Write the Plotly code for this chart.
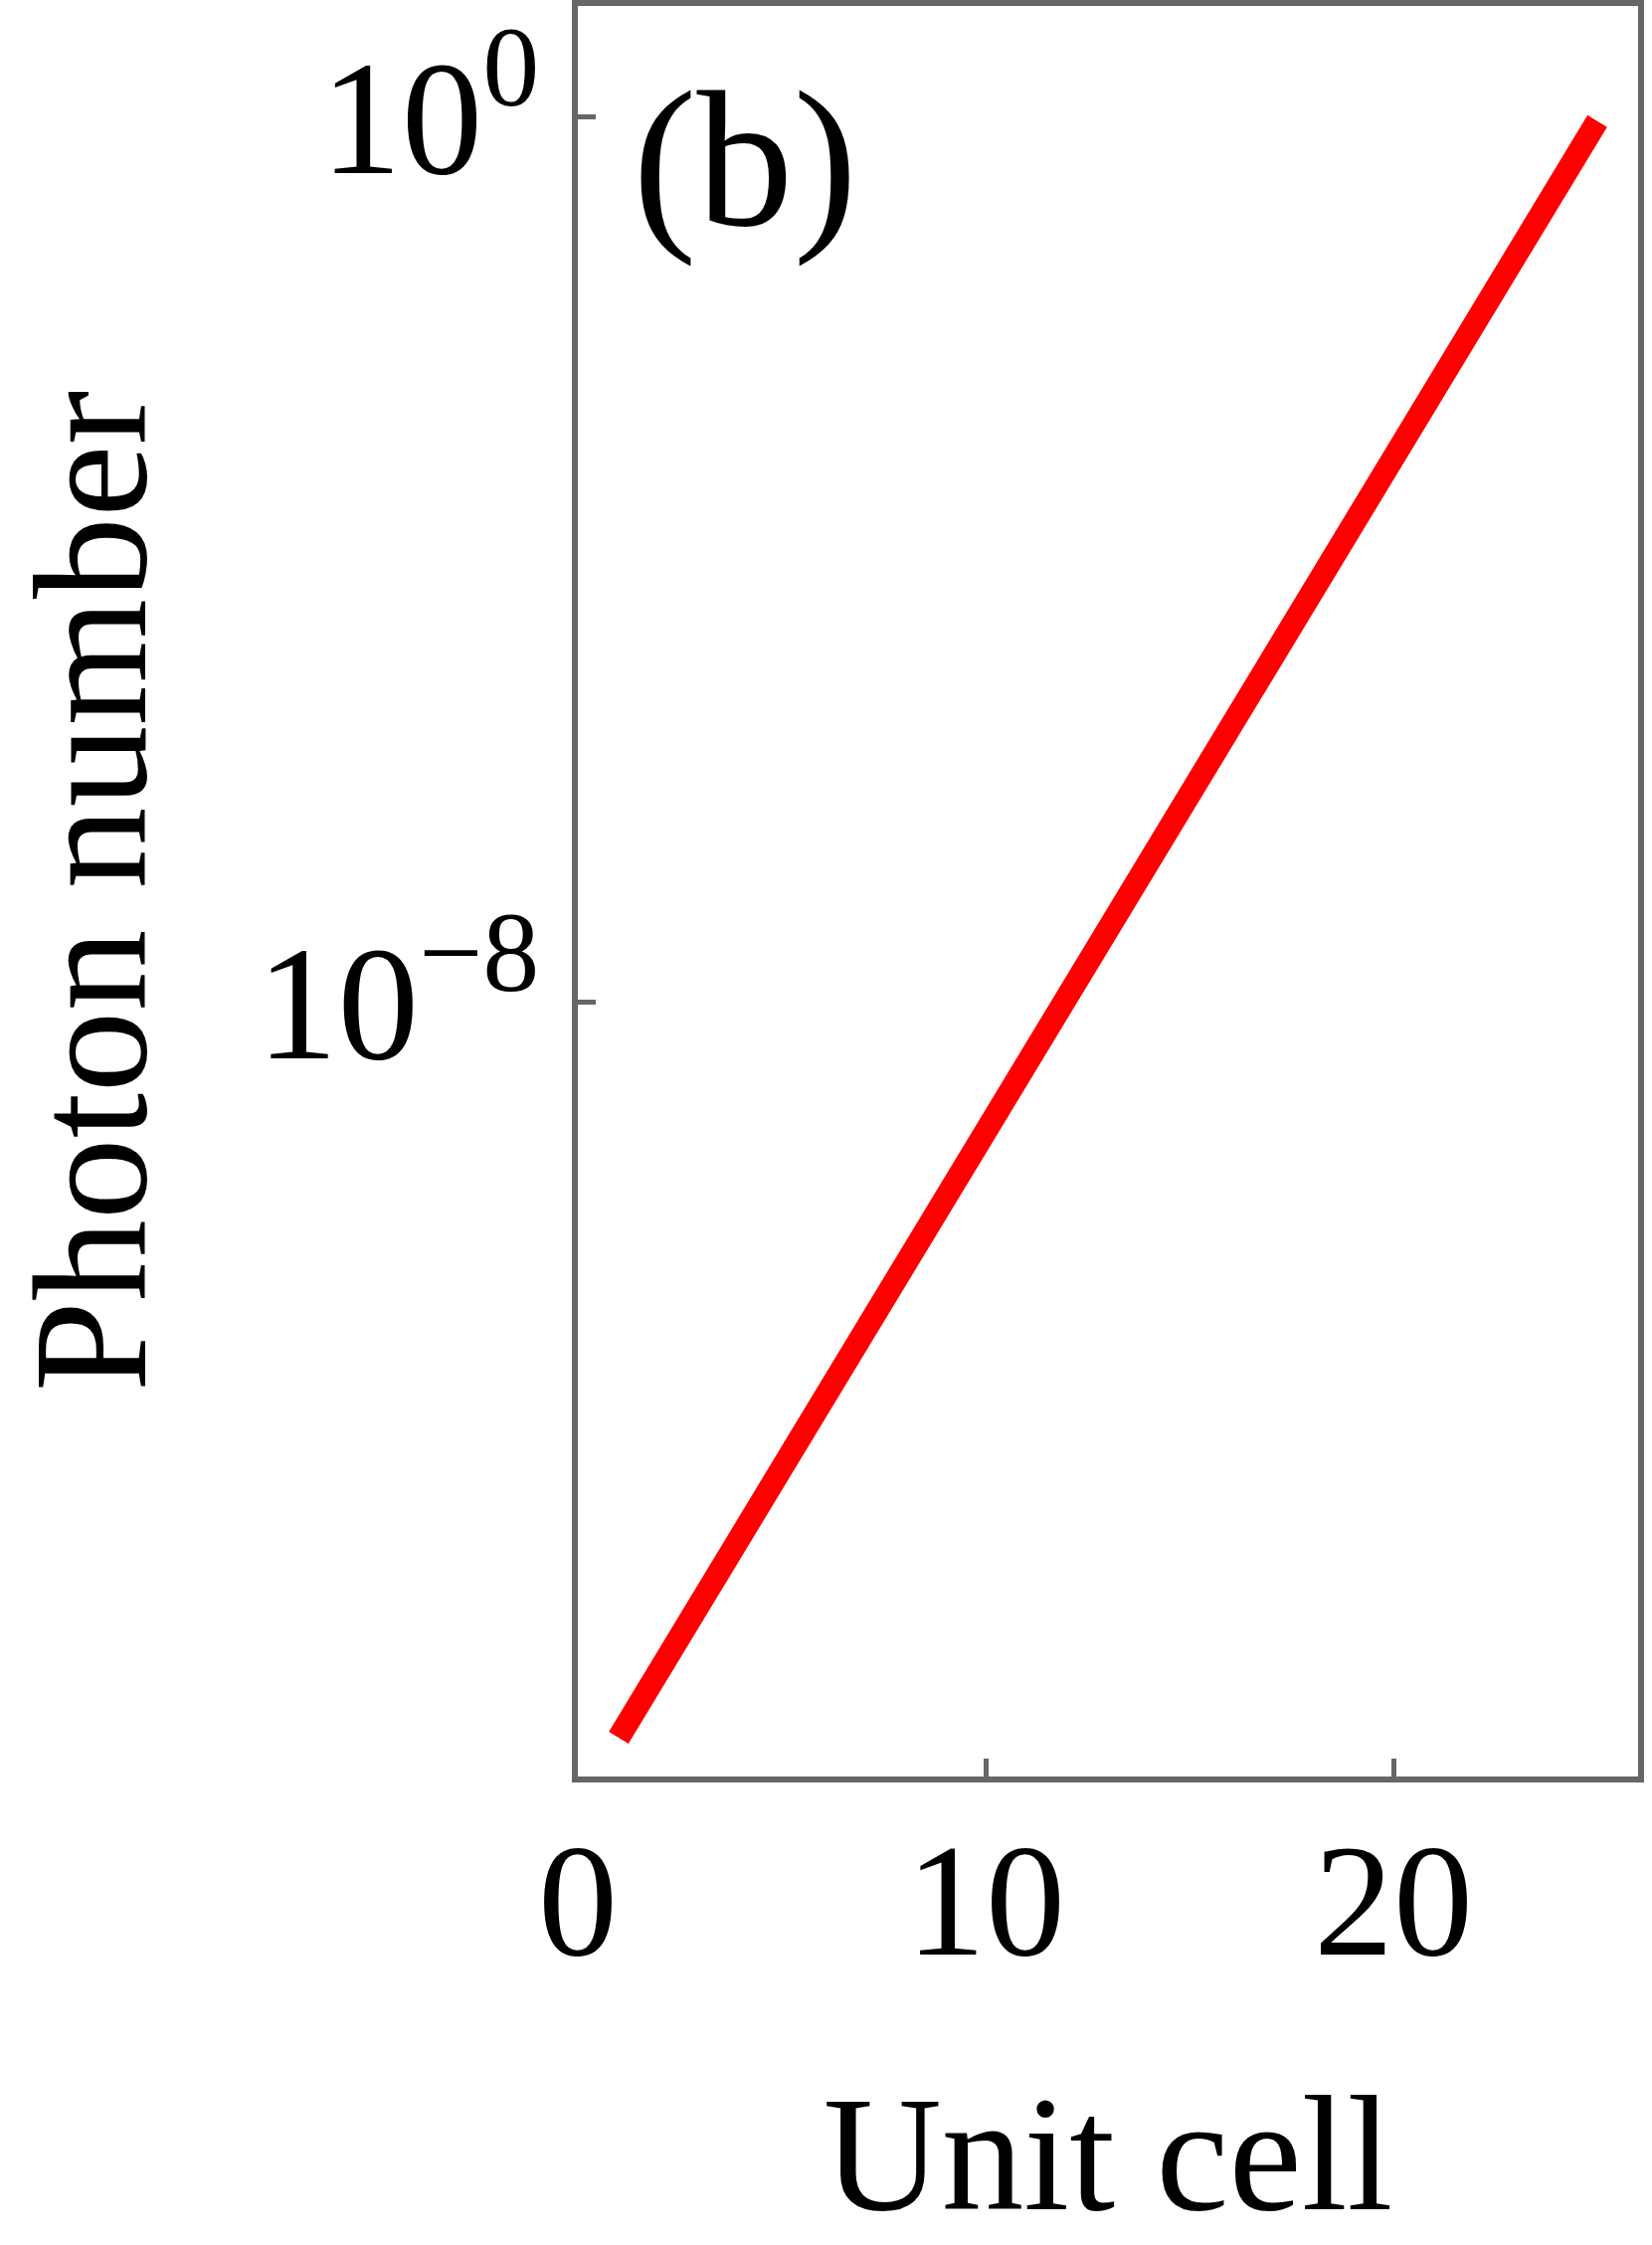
import plotly.graph_objects as go

unit_cell = list(range(1, 26))
photon_number = [2.24e-15, 9.12e-15, 3.72e-14, 1.51e-13, 6.17e-13, 2.51e-12, 1.02e-11,
                 4.07e-11, 1.66e-10, 6.76e-10, 2.75e-9, 1.12e-8, 4.57e-8, 1.86e-7,
                 7.59e-7, 3.09e-6, 1.23e-5, 5.01e-5, 2.04e-4, 8.32e-4, 3.39e-3,
                 1.38e-2, 5.62e-2, 0.229, 0.912]

x_tickvals = [0, 10, 20]
x_ticktext = ["0", "10", "20"]
y_tickvals = [1, 1e-8]
y_ticktext = ["10<sup>0</sup>", "10<sup>\u22128</sup>"]

FONT = "'Liberation Serif', 'Times New Roman', Times, serif"
GRAY = "#666666"

fig = go.Figure()
fig.add_trace(go.Scatter(x=unit_cell, y=photon_number, mode="lines",
                         line=dict(color="#ff0000", width=23), showlegend=False))

fig.update_layout(
    width=1661, height=2257,
    margin=dict(l=581, r=14, t=6, b=471, autoexpand=False),
    paper_bgcolor="white", plot_bgcolor="white",
    font=dict(family=FONT, color="black", size=162),
)
fig.update_xaxes(range=[0, 26], tickvals=x_tickvals, ticktext=x_ticktext,
                 showgrid=False, zeroline=False, showline=True, mirror=True,
                 linecolor=GRAY, linewidth=6, ticks="inside", ticklen=18,
                 tickwidth=5, tickcolor=GRAY, ticklabelstandoff=-19, automargin=False,
                 tickfont=dict(family=FONT, size=160),
                 title=dict(text="Unit cell", font=dict(family=FONT, size=165), standoff=154))
fig.update_yaxes(type="log", range=[-15, 1], tickvals=y_tickvals, ticktext=y_ticktext,
                 showgrid=False, zeroline=False, showline=True, mirror=True,
                 linecolor=GRAY, linewidth=6, ticks="inside", ticklen=18,
                 tickwidth=5, tickcolor=GRAY, ticklabelstandoff=0, automargin=False,
                 tickfont=dict(family=FONT, size=163),
                 title=dict(text="Photon number", font=dict(family=FONT, size=164), standoff=138))

fig.add_annotation(text="(b)", xref="paper", yref="paper", x=0.05, y=0.975,
                   xanchor="left", yanchor="top", showarrow=False,
                   font=dict(family=FONT, size=194, color="black"))

fig.write_html("out.html", post_script="document.body.style.margin='0';",
               config={"displayModeBar": False})
